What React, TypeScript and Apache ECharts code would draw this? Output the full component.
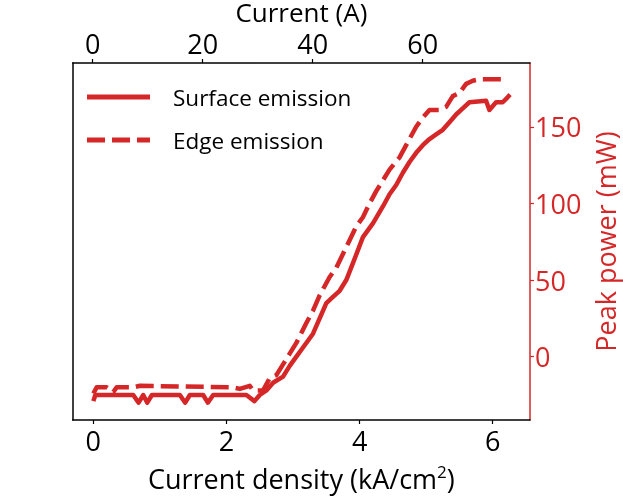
import React, { useEffect, useRef } from "react";
import * as echarts from "echarts";

const surfaceDensity = [
  0.0, 0.03, 0.3, 0.6, 0.68, 0.75, 0.81, 0.88, 1.3, 1.38, 1.45, 1.65, 1.72, 1.8, 2.3, 2.42, 2.5, 2.6,
  2.7, 2.85, 2.95, 3.05, 3.15, 3.3, 3.4, 3.5, 3.6, 3.7, 3.8, 3.9, 4.05, 4.2, 4.35, 4.45, 4.55, 4.65,
  4.75, 4.85, 4.95, 5.05, 5.15, 5.25, 5.35, 5.45, 5.55, 5.65, 5.9, 5.95, 6.05, 6.15, 6.22, 6.26,
];
const surfacePower = [
  -29, -25, -25, -25, -30, -25, -30, -25, -25, -30, -25, -25, -30, -25, -25, -29, -25, -22,
  -17, -13, -6, 0, 6, 15, 25, 35, 39, 43, 50, 61, 78, 87, 98, 106, 112, 120,
  127, 133, 138, 142, 145, 148, 153, 158, 162, 166, 167, 161, 166, 166, 169, 171,
];

const edgeDensity = [
  0.0, 0.05, 0.2, 0.3, 0.35, 0.6, 0.7, 2.1, 2.2, 2.35, 2.4, 2.55, 2.65, 2.75, 2.85, 2.95, 3.05, 3.2,
  3.3, 3.4, 3.55, 3.65, 3.75, 3.85, 3.95, 4.05, 4.15, 4.25, 4.35, 4.45, 4.6, 4.75, 4.85, 4.95, 5.05,
  5.2, 5.3, 5.4, 5.5, 5.6, 5.7, 5.8, 6.22,
];
const edgePower = [
  -24, -20, -20, -23, -20, -20, -19, -20, -21, -19, -22, -22, -14, -12, -5, 2, 9, 22,
  30, 40, 52, 58, 67, 76, 85, 91, 100, 108, 115, 122, 130, 142, 150, 156, 161,
  161, 163, 170, 172, 178, 180, 181, 181,
];

const densityTicks = [0, 2, 4, 6];
const currentTicks = [0, 20, 40, 60];
const powerTicks = [0, 50, 100, 150];

const RED = "#d62728";
const FONT = "Open Sans";
const FS = 27;

export default function App() {
  const ref = useRef<HTMLDivElement>(null);
  useEffect(() => {
    const chart = echarts.init(ref.current!, null, { renderer: "svg" });
    const surface = surfaceDensity.map((d, i) => [d, surfacePower[i]]);
    const edge = edgeDensity.map((d, i) => [d, edgePower[i]]);
    const pMin = -41.3;
    const pMax = 191.6;
    chart.setOption({
      animation: false,
      textStyle: { fontFamily: FONT },
      grid: { left: 72.7, right: 93, top: 63, bottom: 79, outerBoundsMode: "none", containLabel: false },
      legend: {
        orient: "vertical",
        left: 82,
        top: 80.5,
        itemWidth: 63,
        itemHeight: 5,
        itemGap: 20,
        textStyle: { fontSize: 22.5, color: "#000", fontFamily: FONT, padding: [0, 0, 0, 18] },
        data: [
          { name: "Surface emission", icon: "path://M0,0h63v5h-63z" },
          { name: "Edge emission", icon: "path://M0,0h18v5h-18z M25,0h18v5h-18z M50,0h13v5h-13z" },
        ],
      },
      xAxis: [
        {
          type: "value",
          position: "bottom",
          min: -0.31,
          max: 6.56,
          name: "Current density (kA/cm{sup|2})",
          nameLocation: "middle",
          nameGap: 43,
          nameTextStyle: {
            fontSize: FS,
            color: "#000",
            fontFamily: FONT,
            rich: { sup: { fontSize: 17, fontFamily: FONT, color: "#000", padding: [0, 0, 14, 0] } },
          },
          axisLine: { show: true, onZero: false, lineStyle: { color: "#000", width: 1.5 } },
          axisTick: { show: true, inside: false, length: 4, lineStyle: { color: "#000", width: 1.2 }, customValues: densityTicks },
          axisLabel: { fontSize: FS, color: "#000", margin: 7, fontFamily: FONT, customValues: densityTicks },
          splitLine: { show: false },
        },
        {
          type: "value",
          position: "top",
          min: -3.64,
          max: 79.5,
          name: "Current (A)",
          nameLocation: "middle",
          nameGap: 27,
          nameTextStyle: { fontSize: 26, color: "#000", fontFamily: FONT },
          axisLine: { show: true, onZero: false, lineStyle: { color: "#000", width: 1.5 } },
          axisTick: { show: true, inside: false, length: 4, lineStyle: { color: "#000", width: 1.2 }, customValues: currentTicks },
          axisLabel: { fontSize: FS, lineHeight: 26, color: "#000", margin: 7, fontFamily: FONT, customValues: currentTicks },
          splitLine: { show: false },
        },
      ],
      yAxis: [
        {
          type: "value",
          position: "right",
          min: pMin,
          max: pMax,
          name: "Peak power (mW)",
          nameLocation: "middle",
          nameGap: 51,
          nameTextStyle: { fontSize: FS, color: RED, fontFamily: FONT },
          axisLine: { show: true, onZero: false, lineStyle: { color: RED, width: 1.5 } },
          axisTick: { show: true, inside: false, length: 4, lineStyle: { color: RED, width: 1.2 }, customValues: powerTicks },
          axisLabel: { fontSize: FS, color: RED, margin: 5, fontFamily: FONT, customValues: powerTicks },
          splitLine: { show: false },
        },
        {
          type: "value",
          position: "left",
          min: pMin,
          max: pMax,
          axisLine: { show: true, onZero: false, lineStyle: { color: "#000", width: 1.5 } },
          axisTick: { show: false },
          axisLabel: { show: false },
          splitLine: { show: false },
        },
      ],
      series: [
        {
          name: "Surface emission",
          type: "line",
          xAxisIndex: 0,
          yAxisIndex: 0,
          data: surface,
          showSymbol: false,
          symbol: "none",
          lineStyle: { color: RED, width: 4.5, join: "round", cap: "butt" },
          itemStyle: { color: RED },
        },
        {
          name: "Edge emission",
          type: "line",
          xAxisIndex: 0,
          yAxisIndex: 0,
          data: edge,
          showSymbol: false,
          symbol: "none",
          lineStyle: { color: RED, width: 4.5, type: [18, 7], join: "round", cap: "butt" },
          itemStyle: { color: RED },
        },
      ],
    });
    return () => chart.dispose();
  }, []);
  return <div ref={ref} style={{ width: 623, height: 499, position: "fixed", left: 0, top: 0 }} />;
}
